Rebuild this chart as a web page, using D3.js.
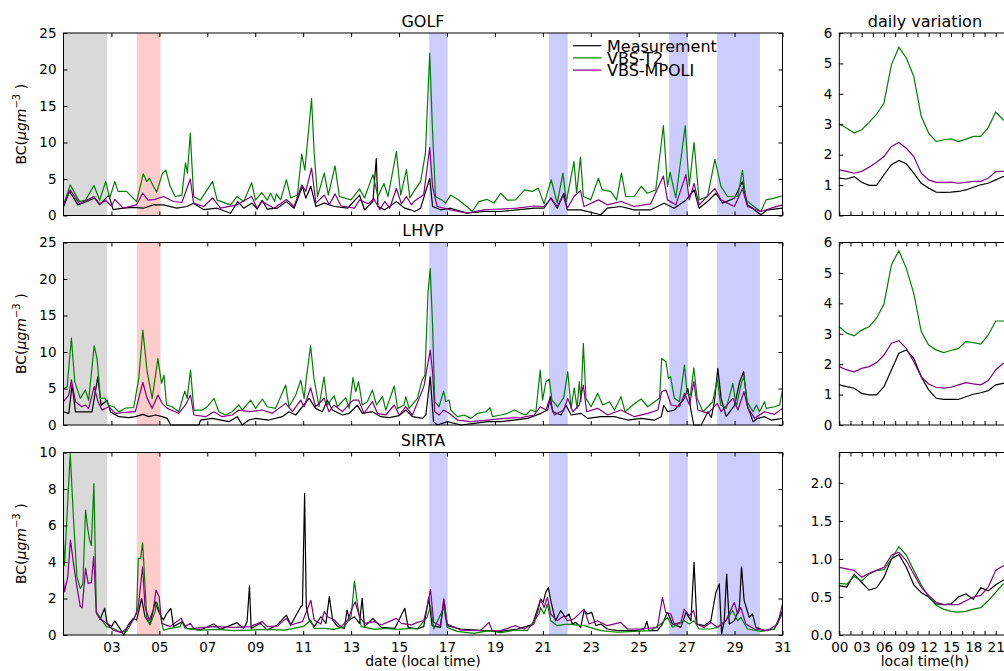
<!DOCTYPE html>
<html>
<head>
<meta charset="utf-8">
<script src="https://cdn.jsdelivr.net/npm/d3@7/dist/d3.min.js"></script>
<style>
body { margin: 0; background: #fff; }
svg { display: block; font-family: "DejaVu Sans", sans-serif; }
</style>
</head>
<body>
<div id="chart"></div>
<script>
// time series, [day of month, BC value]
var golfMeas = [[1.0,1.2],[1.25,3.3],[1.6,1.46],[1.95,1.9],[2.3,2.4],[2.51,1.46],[2.89,2.8],[3.07,0.8],[3.49,1.0],[3.91,1.1],[4.33,1.0],[4.75,1.46],[5.17,1.46],[5.73,1.0],[6.15,1.23],[6.43,1.69],[6.85,0.8],[7.41,1.0],[7.97,0.3],[8.27,1.9],[8.52,1.0],[8.87,1.7],[9.08,0.87],[9.29,2.1],[9.5,0.87],[9.92,1.0],[10.3,1.9],[10.62,1.0],[10.97,4.0],[11.11,2.37],[11.32,4.0],[11.53,1.23],[11.88,1.69],[12.3,1.23],[12.86,1.0],[13.35,2.8],[13.56,0.78],[13.91,1.92],[14.05,7.8],[14.12,1.23],[14.4,0.78],[14.89,1.9],[15.24,1.0],[15.48,0.78],[15.66,0.55],[15.9,1.0],[16.28,5.1],[16.4,1.23],[16.73,0.78],[17.15,1.0],[17.84,0.32],[18.54,0.55],[19.24,0.55],[19.93,0.78],[20.63,1.0],[21.05,1.0],[21.33,2.4],[21.6,1.0],[21.88,3.05],[22.02,0.78],[22.58,0.78],[23.42,0.1],[23.69,1.0],[24.25,1.23],[24.81,0.78],[25.5,0.78],[26.06,1.69],[26.48,1.0],[26.97,2.1],[27.31,3.5],[27.52,1.0],[27.87,1.92],[28.22,3.05],[28.5,1.69],[28.99,2.37],[29.33,4.65],[29.54,1.46],[30.1,0.1],[30.38,0.78],[31.0,1.0]];
var golfT2 = [[1.0,1.46],[1.28,4.2],[1.67,1.9],[1.92,2.1],[2.27,4.1],[2.51,2.1],[2.76,4.65],[2.93,2.4],[3.14,4.65],[3.28,3.3],[3.63,3.3],[4.05,1.9],[4.33,5.7],[4.47,4.65],[4.58,5.1],[4.75,4.0],[4.89,3.2],[5.13,5.8],[5.27,6.2],[5.45,4.0],[5.66,2.6],[5.94,2.8],[6.09,7.2],[6.17,5.8],[6.29,11.3],[6.43,2.6],[6.71,2.1],[7.22,4.65],[7.41,2.1],[7.97,1.46],[8.24,2.6],[8.52,1.9],[8.85,4.5],[9.01,2.1],[9.27,3.15],[9.5,2.1],[9.64,3.05],[9.81,1.92],[9.88,2.96],[10.06,2.14],[10.3,4.9],[10.48,2.4],[10.76,2.8],[10.94,8.4],[11.07,6.2],[11.35,16.0],[11.46,8.5],[11.6,2.6],[11.88,5.8],[12.05,2.8],[12.33,6.8],[12.51,2.6],[13.0,2.14],[13.35,3.65],[13.56,2.4],[13.91,5.6],[14.12,2.6],[14.37,4.4],[14.54,2.6],[14.89,8.75],[15.07,2.8],[15.31,6.3],[15.45,2.4],[15.62,3.3],[15.9,4.65],[16.1,8.5],[16.28,22.2],[16.38,13.1],[16.52,2.6],[16.8,2.1],[16.94,1.7],[17.15,2.8],[17.5,2.1],[17.84,1.2],[18.05,0.55],[18.33,1.9],[18.68,2.2],[18.96,1.7],[19.24,3.05],[19.52,2.1],[19.86,2.14],[20.24,3.5],[20.56,3.3],[20.81,3.75],[21.05,1.6],[21.35,4.9],[21.6,1.7],[21.84,5.8],[21.98,1.9],[22.3,7.4],[22.41,3.05],[22.57,8.0],[22.69,2.6],[23.0,2.14],[23.32,5.1],[23.48,3.5],[23.83,3.3],[24.08,2.14],[24.28,5.8],[24.46,2.6],[24.81,2.6],[25.11,4.0],[25.36,3.05],[25.71,3.5],[26.03,12.3],[26.2,4.0],[26.31,5.9],[26.55,2.4],[26.94,12.3],[27.11,4.0],[27.31,10.0],[27.52,2.14],[27.87,2.6],[28.18,7.7],[28.43,4.0],[28.71,2.6],[29.13,2.6],[29.33,6.2],[29.47,2.14],[29.82,1.2],[30.1,0.55],[30.31,2.14],[30.66,2.37],[31.0,2.7]];
var golfMpoli = [[1.0,1.46],[1.28,3.5],[1.67,1.6],[2.27,2.6],[2.51,1.6],[2.76,2.05],[3.0,1.3],[3.14,2.2],[3.49,1.0],[4.05,1.46],[4.3,3.05],[4.53,2.1],[4.82,2.2],[5.17,2.6],[5.59,1.92],[5.94,1.78],[6.29,5.0],[6.43,1.69],[6.85,1.23],[7.22,2.4],[7.55,1.0],[8.24,1.46],[8.85,2.6],[9.08,1.0],[9.29,1.92],[9.78,1.0],[10.3,2.2],[10.62,1.23],[10.94,4.2],[11.11,3.3],[11.35,6.5],[11.53,1.69],[11.88,2.8],[12.09,1.46],[12.33,2.96],[12.58,1.3],[13.14,1.0],[13.35,2.14],[13.71,1.6],[13.95,2.3],[14.2,0.78],[14.4,1.92],[14.61,1.0],[14.89,3.7],[15.1,1.6],[15.31,2.6],[15.52,1.46],[15.62,1.92],[16.03,2.83],[16.28,9.35],[16.4,3.97],[16.59,1.23],[17.15,0.78],[17.84,0.32],[18.54,0.78],[19.24,0.87],[19.93,1.0],[20.63,1.3],[21.05,1.23],[21.35,2.37],[21.6,1.23],[21.84,2.8],[22.02,1.0],[22.3,2.6],[22.57,3.4],[22.72,1.23],[23.32,2.14],[23.69,1.46],[24.28,1.92],[24.81,1.23],[25.5,1.6],[26.03,5.4],[26.2,2.14],[26.55,1.46],[26.97,5.6],[27.11,2.14],[27.31,4.4],[27.52,1.46],[28.18,3.7],[28.43,2.14],[28.99,1.23],[29.33,3.7],[29.54,1.23],[30.1,0.55],[30.52,1.0],[31.0,1.46]];

var lhvpMeas = [[1.0,1.8],[1.22,1.6],[1.36,5.5],[1.5,1.8],[1.91,1.8],[2.19,1.8],[2.43,6.6],[2.57,2.7],[2.82,3.4],[2.96,1.8],[3.31,1.14],[3.72,1.0],[4.0,1.14],[4.31,1.46],[4.56,1.14],[4.84,1.37],[5.12,1.14],[5.33,0.91],[5.47,0],[5.95,0],[6.65,0],[6.72,0.68],[7.21,0.91],[7.9,0.46],[8.25,1.14],[8.46,0],[8.74,0.68],[9.02,0.91],[9.57,0.68],[10.13,1.14],[10.41,1.82],[10.69,1.37],[11.25,3.65],[11.52,2.28],[11.8,1.82],[12.01,3.4],[12.22,2.05],[12.64,1.37],[12.92,1.6],[13.26,2.7],[13.47,1.6],[13.89,1.82],[14.24,1.14],[14.59,1.0],[15.01,1.28],[15.28,2.05],[15.56,1.14],[15.98,0.91],[16.12,1.37],[16.3,6.6],[16.44,0.46],[16.6,0],[17.02,0.46],[17.58,0],[18.14,0.23],[18.69,0.46],[19.25,0.46],[19.81,0.68],[20.36,0.91],[20.92,1.6],[21.2,2.05],[21.31,3.9],[21.41,1.82],[21.76,1.37],[21.97,2.7],[22.18,1.37],[22.59,1.6],[22.87,0.91],[23.43,1.14],[23.99,1.14],[24.54,0.68],[25.1,0.91],[25.66,0.68],[25.94,1.14],[26.05,2.7],[26.21,1.82],[26.49,2.05],[26.91,3.65],[27.05,5.0],[27.19,1.82],[27.3,0],[27.61,0],[27.89,1.82],[28.03,1.0],[28.16,3.2],[28.3,7.75],[28.44,3.65],[28.65,1.14],[29.0,2.7],[29.21,5.9],[29.38,7.3],[29.53,2.7],[29.77,0.46],[29.97,0.91],[30.25,1.14],[30.53,0.68],[31.0,0.91]];
var lhvpT2 = [[1.0,5.0],[1.15,5.2],[1.33,11.9],[1.47,5.9],[1.7,3.65],[1.91,4.8],[2.05,3.4],[2.28,10.85],[2.4,9.1],[2.54,3.65],[2.72,3.7],[2.89,2.7],[3.1,2.5],[3.31,1.8],[3.58,2.3],[3.93,2.4],[4.14,6.4],[4.31,13.0],[4.49,7.3],[4.7,3.65],[4.94,9.1],[5.09,5.7],[5.19,6.84],[5.3,2.74],[5.53,2.5],[5.81,1.82],[6.06,4.65],[6.16,3.65],[6.3,7.52],[6.44,2.05],[6.79,2.05],[7.0,2.5],[7.28,3.65],[7.48,1.82],[7.76,1.37],[8.04,1.82],[8.32,2.74],[8.46,2.05],[8.81,3.42],[9.02,2.28],[9.3,3.56],[9.5,2.5],[9.85,2.28],[10.27,5.47],[10.41,2.5],[10.69,4.1],[10.9,6.16],[11.04,3.65],[11.13,6.38],[11.31,10.85],[11.45,6.38],[11.66,2.5],[11.87,6.61],[12.01,2.74],[12.29,4.01],[12.43,2.5],[12.78,3.74],[12.92,2.28],[13.08,6.48],[13.19,4.56],[13.31,5.93],[13.47,2.74],[13.68,3.19],[13.89,4.79],[14.06,2.74],[14.31,3.88],[14.45,2.05],[14.8,5.34],[14.94,2.28],[15.21,2.74],[15.28,3.88],[15.42,2.28],[15.77,3.65],[15.95,6.0],[16.08,6.84],[16.21,18.24],[16.3,21.43],[16.4,13.68],[16.49,3.19],[16.67,2.5],[16.86,4.65],[16.95,3.19],[17.09,3.42],[17.16,2.05],[17.44,1.14],[17.72,1.37],[18.0,0.91],[18.28,1.6],[18.62,1.82],[18.8,2.37],[18.9,1.14],[19.25,1.37],[19.53,1.6],[19.81,2.05],[20.09,1.6],[20.3,1.37],[20.5,2.05],[20.71,1.82],[20.89,7.52],[20.99,3.42],[21.13,5.93],[21.27,6.29],[21.38,3.42],[21.62,2.5],[21.87,3.74],[22.04,7.3],[22.18,2.28],[22.31,5.1],[22.43,2.28],[22.52,5.93],[22.59,3.19],[22.69,11.17],[22.8,3.65],[23.01,2.5],[23.29,4.33],[23.5,2.74],[23.78,3.19],[23.99,2.05],[24.26,3.88],[24.43,1.82],[24.75,2.74],[25.1,3.56],[25.38,2.5],[25.66,3.19],[25.87,3.65],[25.96,9.12],[26.14,8.66],[26.24,6.38],[26.33,6.61],[26.49,3.65],[26.7,3.19],[26.91,8.21],[27.02,4.33],[27.16,4.1],[27.3,7.84],[27.44,3.65],[27.68,1.82],[27.89,2.5],[28.09,3.19],[28.28,6.29],[28.42,2.74],[28.65,2.28],[28.93,5.7],[29.07,2.5],[29.28,5.7],[29.39,6.61],[29.53,3.19],[29.77,1.82],[29.91,2.74],[30.04,1.82],[30.25,3.19],[30.32,2.28],[30.67,2.5],[30.88,2.74],[31.0,4.79]];
var lhvpMpoli = [[1.0,3.19],[1.22,4.1],[1.33,6.2],[1.5,3.19],[1.77,2.5],[1.91,2.74],[2.05,2.28],[2.28,5.25],[2.44,3.19],[2.61,2.05],[2.89,2.5],[3.17,1.6],[3.58,1.73],[4.0,1.82],[4.14,3.65],[4.31,5.85],[4.49,3.65],[4.7,2.28],[4.94,4.1],[5.12,2.96],[5.33,2.28],[5.81,1.6],[6.09,2.74],[6.3,4.1],[6.44,1.37],[6.93,1.14],[7.28,1.82],[7.62,1.14],[8.04,1.37],[8.32,2.05],[8.74,1.82],[9.3,2.05],[9.71,1.6],[10.27,2.96],[10.55,1.82],[10.9,3.42],[11.04,2.5],[11.31,5.1],[11.52,2.5],[11.87,3.65],[12.08,1.82],[12.29,2.74],[12.64,1.82],[13.08,3.42],[13.31,3.42],[13.54,1.6],[13.89,3.19],[14.1,1.6],[14.45,1.37],[14.8,2.74],[15.01,1.37],[15.28,2.5],[15.56,1.37],[15.98,4.79],[16.05,5.47],[16.19,8.21],[16.3,10.26],[16.4,7.3],[16.49,1.82],[16.67,1.37],[16.86,2.05],[17.09,1.6],[17.44,0.68],[18.0,0.46],[18.69,0.68],[19.39,0.91],[20.09,1.0],[20.64,1.37],[20.89,2.5],[21.13,2.05],[21.27,3.42],[21.48,1.37],[21.87,2.05],[22.04,3.65],[22.25,1.82],[22.52,2.74],[22.69,5.47],[22.83,1.82],[23.29,2.28],[23.71,1.37],[24.26,2.05],[24.82,1.14],[25.38,1.6],[25.8,2.05],[25.96,4.56],[26.14,4.79],[26.35,2.74],[26.7,2.5],[26.91,4.33],[27.12,2.74],[27.3,5.93],[27.47,2.05],[27.89,1.6],[28.28,2.96],[28.44,1.82],[28.93,3.65],[29.14,2.05],[29.39,4.56],[29.56,2.28],[29.84,0.91],[30.25,1.82],[30.67,1.46],[31.0,2.28]];

var sirtaMeas = [[2.51,0.82],[2.72,1.46],[2.82,0.64],[3.0,0.46],[3.14,0.77],[3.35,0.36],[3.52,0.0],[3.7,0.55],[3.91,0.91],[4.05,0.82],[4.26,2.01],[4.4,1.0],[4.61,0.6],[4.82,1.82],[5.0,1.19],[5.17,0.82],[5.31,1.19],[5.48,1.46],[5.59,0.46],[5.94,0.73],[6.15,0.36],[6.71,0.27],[7.27,0.6],[7.55,0.31],[8.24,0.68],[8.52,0.36],[8.66,0.73],[8.76,2.69],[8.83,0.36],[9.22,0.64],[9.5,0.27],[9.92,0.55],[10.3,1.09],[10.48,0.55],[10.9,1.55],[10.97,1.64],[11.06,7.75],[11.13,1.55],[11.25,0.82],[11.46,0.46],[11.74,1.0],[11.95,0.64],[12.09,2.1],[12.23,0.82],[12.44,0.46],[12.72,0.36],[12.83,1.37],[12.93,0.82],[13.14,1.0],[13.35,0.64],[13.46,2.01],[13.56,0.46],[13.91,0.91],[14.26,0.42],[14.82,0.36],[15.24,1.46],[15.38,0.42],[15.76,0.33],[16.03,0.46],[16.24,2.05],[16.38,0.51],[16.73,0.42],[16.87,1.97],[17.01,0.51],[17.57,0.33],[18.54,0.24],[19.24,0.2],[19.93,0.33],[20.28,0.46],[20.56,0.57],[20.8,1.5],[20.91,1.97],[21.02,1.79],[21.12,2.33],[21.23,2.6],[21.33,1.88],[21.53,0.78],[21.74,1.33],[21.95,0.97],[22.09,1.15],[22.23,0.6],[22.37,0.69],[22.58,0.42],[22.72,1.33],[22.86,1.15],[23.04,1.24],[23.21,0.51],[23.42,0.6],[23.69,0.33],[24.11,0.24],[24.81,0.24],[25.23,0.33],[25.34,0.75],[25.43,0.24],[25.78,0.24],[25.99,0.6],[26.2,1.24],[26.41,0.6],[26.76,0.42],[26.97,1.24],[27.18,0.78],[27.31,3.98],[27.43,0.6],[27.73,0.51],[28.01,0.78],[28.22,2.33],[28.36,2.8],[28.46,0.05],[28.57,0.78],[28.67,3.34],[28.78,0.6],[28.99,0.78],[29.2,1.5],[29.29,3.74],[29.4,1.88],[29.61,0.97],[29.75,1.15],[29.89,0.42],[30.24,0.24],[30.66,0.33],[31.0,1.33]];
var sirtaT2 = [[1.0,5.2],[1.04,3.8],[1.28,9.95],[1.42,6.3],[1.56,3.2],[1.7,2.55],[1.81,2.8],[1.92,6.85],[2.02,5.75],[2.09,5.2],[2.16,4.9],[2.27,8.3],[2.37,1.28],[2.51,1.0],[2.79,0.46],[3.07,0.36],[3.35,0.18],[3.63,0.18],[3.91,0.82],[4.05,1.19],[4.12,4.2],[4.22,4.2],[4.3,5.05],[4.36,3.74],[4.47,1.0],[4.61,0.55],[4.82,1.28],[4.89,1.82],[5.03,1.19],[5.17,0.27],[5.45,0.36],[5.87,0.46],[5.94,0.73],[6.08,0.36],[6.71,0.27],[7.41,0.31],[8.1,0.24],[8.8,0.27],[9.5,0.31],[10.2,0.27],[10.62,0.36],[11.04,0.49],[11.32,0.82],[11.46,0.36],[11.88,0.36],[12.3,0.31],[12.72,0.46],[13.0,1.0],[13.14,2.95],[13.28,1.55],[13.42,0.46],[13.98,0.31],[14.4,0.36],[14.96,0.31],[15.52,0.36],[15.76,0.33],[16.17,0.97],[16.31,1.6],[16.45,0.33],[16.87,1.5],[17.01,0.42],[17.43,0.2],[18.12,0.09],[18.75,0.24],[19.24,0.13],[19.86,0.27],[20.35,0.24],[20.84,1.15],[20.91,1.51],[21.05,1.15],[21.19,1.7],[21.33,0.78],[21.6,0.51],[22.02,0.6],[22.72,0.51],[23.42,0.24],[24.11,0.15],[24.81,0.2],[25.5,0.24],[25.92,0.6],[26.2,0.97],[26.41,0.42],[26.9,0.78],[27.11,0.6],[27.31,0.78],[27.52,0.33],[28.01,0.33],[28.29,0.42],[28.64,0.78],[28.92,1.33],[29.13,0.78],[29.26,0.97],[29.54,0.33],[30.1,0.2],[30.66,0.33],[31.0,1.15]];
var sirtaMpoli = [[1.0,3.0],[1.04,2.37],[1.18,3.19],[1.29,5.2],[1.42,3.9],[1.56,2.64],[1.7,1.55],[1.78,1.5],[1.92,3.65],[2.03,2.83],[2.16,2.87],[2.26,4.3],[2.37,1.19],[2.51,0.91],[2.79,0.64],[3.07,0.27],[3.42,0.13],[3.7,0.46],[3.98,1.0],[4.12,1.55],[4.3,3.74],[4.4,1.55],[4.58,0.82],[4.75,1.37],[4.86,2.46],[4.99,2.1],[5.1,0.64],[5.45,0.46],[5.91,0.91],[6.08,0.46],[6.29,0.64],[6.43,0.36],[7.27,0.46],[8.1,0.42],[8.8,0.46],[9.29,0.73],[9.5,0.46],[9.92,0.49],[10.3,0.91],[10.48,0.55],[10.97,0.73],[11.11,1.19],[11.32,1.9],[11.46,0.82],[11.74,0.6],[11.88,1.28],[12.02,1.0],[12.3,0.82],[12.58,0.46],[12.86,0.82],[13.07,1.55],[13.17,1.82],[13.35,1.0],[13.56,0.64],[13.98,0.73],[14.26,0.55],[14.89,0.91],[15.1,0.64],[15.52,0.55],[15.76,0.69],[16.03,0.78],[16.17,1.51],[16.31,2.5],[16.45,0.69],[16.73,0.51],[16.87,1.97],[17.01,0.6],[17.57,0.27],[18.4,0.24],[18.75,0.69],[18.89,0.24],[19.24,0.24],[19.86,0.51],[20.21,0.33],[20.63,0.6],[20.8,1.33],[20.91,1.97],[21.05,1.51],[21.19,2.06],[21.33,1.15],[21.6,0.78],[21.88,1.06],[22.02,0.78],[22.3,0.88],[22.72,1.42],[22.93,0.6],[23.28,0.78],[23.69,0.51],[24.25,0.69],[24.53,0.33],[25.09,0.33],[25.78,0.42],[25.99,2.06],[26.13,1.24],[26.34,1.15],[26.48,0.6],[26.76,0.69],[26.9,1.42],[27.11,1.06],[27.29,1.33],[27.43,0.6],[27.73,0.42],[28.01,0.69],[28.29,0.42],[28.64,0.78],[28.99,1.79],[29.13,1.15],[29.26,1.51],[29.47,0.6],[29.82,0.33],[30.38,0.24],[30.8,0.6],[31.0,1.7]];

// mean diurnal cycle, one value per hour 00..23
var hours = d3.range(0, 24);
var golfDailyMeas = [1.23,1.2,1.28,1.09,0.99,0.99,1.34,1.67,1.81,1.7,1.39,1.06,0.9,0.77,0.76,0.77,0.79,0.84,0.93,1.01,1.06,1.17,1.28,1.3];
var golfDailyT2 = [3.02,2.87,2.71,2.82,3.06,3.33,3.7,4.96,5.53,5.18,4.57,3.26,2.71,2.43,2.49,2.52,2.43,2.51,2.6,2.6,2.89,3.4,3.15,3.0];
var golfDailyMpoli = [1.5,1.45,1.39,1.45,1.59,1.75,1.94,2.27,2.4,2.21,1.94,1.39,1.17,1.09,1.09,1.1,1.06,1.09,1.12,1.12,1.23,1.44,1.45,1.45];
var lhvpDailyMeas = [1.32,1.26,1.21,1.04,0.99,0.99,1.26,1.81,2.36,2.47,2.19,1.59,1.15,0.88,0.84,0.84,0.84,0.93,1.01,1.06,1.13,1.32,1.37,1.4];
var lhvpDailyT2 = [3.23,3.02,2.93,3.12,3.23,3.51,3.98,5.26,5.73,5.15,4.33,3.07,2.63,2.47,2.38,2.45,2.52,2.74,2.71,2.66,2.96,3.42,3.42,3.4];
var lhvpDailyMpoli = [1.92,1.81,1.75,1.86,1.92,2.05,2.3,2.69,2.77,2.52,2.08,1.59,1.35,1.24,1.21,1.24,1.32,1.39,1.35,1.32,1.46,1.81,2.03,2.1];
var sirtaDailyMeas = [0.65,0.63,0.8,0.69,0.59,0.62,0.76,1.0,1.06,0.89,0.66,0.56,0.5,0.41,0.4,0.41,0.5,0.54,0.47,0.62,0.58,0.66,0.72,0.72];
var sirtaDailyT2 = [0.68,0.67,0.77,0.71,0.8,0.85,0.86,1.0,1.16,1.05,0.85,0.66,0.5,0.39,0.34,0.31,0.3,0.31,0.34,0.36,0.45,0.56,0.67,0.72];
var sirtaDailyMpoli = [0.89,0.87,0.85,0.76,0.81,0.85,0.89,1.05,1.09,0.98,0.8,0.63,0.52,0.43,0.4,0.4,0.4,0.45,0.5,0.52,0.63,0.85,0.91,0.92];

var seriesNames = ["Measurement", "VBS-T2", "VBS-MPOLI"];
var siteNames = ["GOLF", "LHVP", "SIRTA"];
var dayTicks = d3.range(3, 32, 2);
var hourTicks = d3.range(0, 23, 1.5);

// shaded periods [start day, end day]
var graySpans = [[1.0, 2.82]];
var redSpans = [[4.06, 5.05]];
var blueSpans = [[16.26, 17.03], [21.26, 22.04], [26.27, 27.05], [28.27, 30.06]];

var width = 1004, height = 671;
var colors = ["#000000", "#008000", "#800080"];
var tickFont = 13.5;

var svg = d3.select("#chart").append("svg")
    .attr("width", width)
    .attr("height", height)
    .style("overflow", "hidden");

var x = d3.scaleLinear().domain([1, 31]).range([63.5, 782.5]);
var xh = d3.scaleLinear().domain([0, 23]).range([839.3, 1010.6]);

var tops = [33, 242.5, 452.5], ph = 182.5;

var rows = [
  {series: [golfMeas, golfT2, golfMpoli], daily: [golfDailyMeas, golfDailyT2, golfDailyMpoli],
   ymax: 25, yticks: d3.range(0, 26, 5), dmax: 6, dticks: d3.range(0, 7), dfmt: d3.format("d")},
  {series: [lhvpMeas, lhvpT2, lhvpMpoli], daily: [lhvpDailyMeas, lhvpDailyT2, lhvpDailyMpoli],
   ymax: 25, yticks: d3.range(0, 26, 5), dmax: 6, dticks: d3.range(0, 7), dfmt: d3.format("d")},
  {series: [sirtaMeas, sirtaT2, sirtaMpoli], daily: [sirtaDailyMeas, sirtaDailyT2, sirtaDailyMpoli],
   ymax: 10, yticks: d3.range(0, 11, 2), dmax: 2.4, dticks: [0, 0.5, 1, 1.5, 2], dfmt: d3.format(".1f")}
];

function styleAxis(g) {
  g.select(".domain").remove();
  g.attr("font-size", tickFont).attr("font-family", "DejaVu Sans, sans-serif").attr("color", "#000");
  g.selectAll(".tick line").attr("stroke-width", 1);
}

function frame(xs, y, last, tvals, tfmt, yvals, yfmt) {
  var x0 = xs.range()[0], x1 = xs.range()[1], y0 = y.range()[0], y1 = y.range()[1];
  svg.append("g").attr("transform", "translate(0," + y0 + ")")
    .call(d3.axisBottom(xs).tickValues(tvals).tickSizeInner(-4).tickSizeOuter(0).tickPadding(7)
      .tickFormat(last ? tfmt : function() { return ""; }))
    .call(styleAxis);
  svg.append("g").attr("transform", "translate(0," + y1 + ")")
    .call(d3.axisTop(xs).tickValues(tvals).tickSizeInner(-4).tickSizeOuter(0).tickFormat(function() { return ""; }))
    .call(styleAxis);
  svg.append("g").attr("transform", "translate(" + x0 + ",0)")
    .call(d3.axisLeft(y).tickValues(yvals).tickSizeInner(-4).tickSizeOuter(0).tickPadding(7).tickFormat(yfmt))
    .call(styleAxis);
  svg.append("g").attr("transform", "translate(" + x1 + ",0)")
    .call(d3.axisRight(y).tickValues(yvals).tickSizeInner(-4).tickSizeOuter(0).tickFormat(function() { return ""; }))
    .call(styleAxis);
  svg.append("rect")
    .attr("x", x0).attr("y", y1)
    .attr("width", x1 - x0).attr("height", y0 - y1)
    .attr("fill", "none").attr("stroke", "#000").attr("stroke-width", 1);
}

rows.forEach(function(r, i) {
  var top = tops[i], last = i === rows.length - 1;
  var y = d3.scaleLinear().domain([0, r.ymax]).range([top + ph, top]);
  var yd = d3.scaleLinear().domain([0, r.dmax]).range([top + ph, top]);

  // shaded periods
  var spans = graySpans.map(function(s) { return {s: s, c: "#d9d9d9"}; })
    .concat(redSpans.map(function(s) { return {s: s, c: "#ffcccc"}; }))
    .concat(blueSpans.map(function(s) { return {s: s, c: "#ccccff"}; }));
  svg.append("g").selectAll("rect").data(spans).enter().append("rect")
    .attr("x", function(d) { return x(d.s[0]); })
    .attr("width", function(d) { return x(d.s[1]) - x(d.s[0]); })
    .attr("y", top).attr("height", ph)
    .attr("fill", function(d) { return d.c; });

  var line = d3.line().x(function(d) { return x(d[0]); }).y(function(d) { return y(d[1]); });
  svg.append("g").selectAll("path").data(r.series).enter().append("path")
    .attr("d", line)
    .attr("fill", "none")
    .attr("stroke", function(d, k) { return colors[k]; })
    .attr("stroke-width", 1.2)
    .attr("stroke-linejoin", "round");

  var dline = d3.line().x(function(d, h) { return xh(hours[h]); }).y(function(d) { return yd(d); });
  svg.append("g").selectAll("path").data(r.daily).enter().append("path")
    .attr("d", dline)
    .attr("fill", "none")
    .attr("stroke", function(d, k) { return colors[k]; })
    .attr("stroke-width", 1.2);

  frame(x, y, last, dayTicks, d3.format("02d"), r.yticks, d3.format("d"));
  frame(xh, yd, last, hourTicks, function(h) { return h % 3 === 0 ? d3.format("02d")(h) : ""; }, r.dticks, r.dfmt);

  svg.append("text")
    .attr("x", (x.range()[0] + x.range()[1]) / 2).attr("y", top - 6.5)
    .attr("text-anchor", "middle").attr("font-size", 16)
    .text(siteNames[i]);

  // y label BC(ugm-3)
  var yl = svg.append("text")
    .attr("transform", "translate(26," + (top + ph / 2) + ") rotate(-90)")
    .attr("text-anchor", "middle").attr("font-size", 14);
  yl.append("tspan").text("BC(");
  yl.append("tspan").attr("font-style", "italic").text("\u03bcgm");
  yl.append("tspan").attr("font-size", 10).attr("dy", -6).text("\u22123");
  yl.append("tspan").attr("dy", 6).text(" )");
});

svg.append("text")
  .attr("x", (xh.range()[0] + xh.range()[1]) / 2).attr("y", 26.5)
  .attr("text-anchor", "middle").attr("font-size", 16)
  .text("daily variation");

svg.append("text")
  .attr("x", (x.range()[0] + x.range()[1]) / 2).attr("y", 666)
  .attr("text-anchor", "middle").attr("font-size", 14)
  .text("date (local time)");
svg.append("text")
  .attr("x", (xh.range()[0] + xh.range()[1]) / 2).attr("y", 666)
  .attr("text-anchor", "middle").attr("font-size", 14)
  .text("local time(h)");

// legend, no frame
var legend = svg.append("g").selectAll("g").data(seriesNames).enter().append("g")
  .attr("transform", function(d, k) { return "translate(573," + (45.7 + k * 12.2) + ")"; });
legend.append("line").attr("x1", 0).attr("x2", 28.5).attr("y1", 0).attr("y2", 0)
  .attr("stroke", function(d, k) { return colors[k]; }).attr("stroke-width", 1.2);
legend.append("text").attr("x", 34).attr("y", 5.8).attr("font-size", 16).text(function(d) { return d; });
</script>
</body>
</html>
